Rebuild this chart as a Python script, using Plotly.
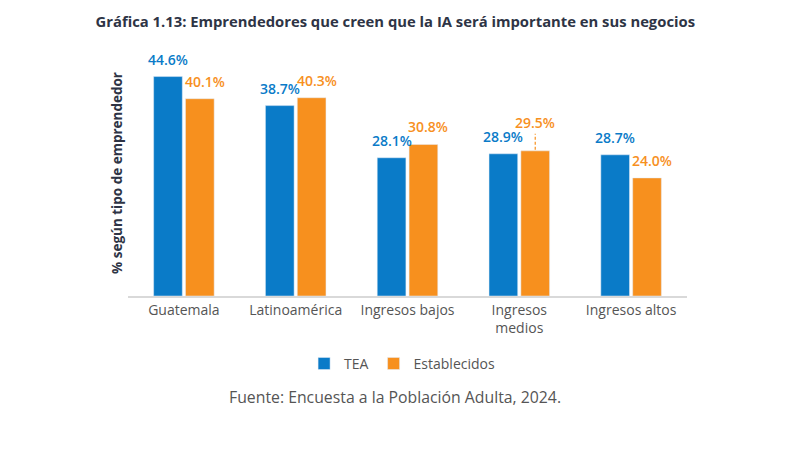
import plotly.graph_objects as go

categories = ["Guatemala", "Latinoamérica", "Ingresos bajos", "Ingresos<br>medios", "Ingresos altos"]
tea_values = [44.6, 38.7, 28.1, 28.9, 28.7]
est_values = [40.1, 40.3, 30.8, 29.5, 24.0]
series_names = ["TEA", "Establecidos"]

BLUE = "#0A7BC8"
ORANGE = "#F7901E"
FONT = "Open Sans"
BARGAP = 0.43
HALF = (1 - BARGAP) / 4  # offset of each bar centre from the category centre

fig = go.Figure()
fig.add_trace(go.Bar(x=categories, y=tea_values, name=series_names[0], marker_color=BLUE))
fig.add_trace(go.Bar(x=categories, y=est_values, name=series_names[1], marker_color=ORANGE))

annotations = []
shapes = []
for i, v in enumerate(tea_values):
    annotations.append(dict(x=i - HALF, y=v, xref="x", yref="y", text=f"{v:.1f}%",
                            showarrow=False, yanchor="bottom", yshift=6,
                            font=dict(family=FONT, size=14, color=BLUE, weight=600)))
for i, v in enumerate(est_values):
    raised = (i == 3)
    annotations.append(dict(x=i + HALF, y=v, xref="x", yref="y", text=f"{v:.1f}%",
                            showarrow=False, yanchor="bottom", yshift=17 if raised else 6,
                            xshift=0 if raised else 5,
                            font=dict(family=FONT, size=14, color=ORANGE, weight=600)))
    if raised:
        shapes.append(dict(type="line", xref="x", yref="y", ysizemode="pixel", yanchor=v,
                           x0=i + HALF, x1=i + HALF, y0=1, y1=17,
                           line=dict(color=ORANGE, width=1.2, dash="3px,2px")))

annotations.append(dict(x=0.4785, y=-0.41, xref="paper", yref="paper", yanchor="middle",
                        text="Fuente: Encuesta a la Población Adulta, 2024.", showarrow=False,
                        font=dict(family=FONT, size=15.8, color="#555555")))

fig.update_layout(
    width=792, height=463,
    paper_bgcolor="white", plot_bgcolor="white",
    margin=dict(l=120, r=113, t=42, b=175),
    title=dict(text="<b>Gráfica 1.13: Emprendedores que creen que la IA será importante en sus negocios</b>",
               x=0.489, xanchor="center", y=0.970, yanchor="middle",
               font=dict(family=FONT, size=14.8, color="#2E3445")),
    barmode="group", bargap=BARGAP, bargroupgap=0.1,
    showlegend=True,
    legend=dict(orientation="h", x=0.315, xanchor="left", y=-0.276, yanchor="middle",
                font=dict(family=FONT, size=14, color="#555555"), itemwidth=30,
                tracegroupgap=0),
    annotations=annotations,
    shapes=shapes,
    xaxis=dict(showline=True, linecolor="#D9D9D9", linewidth=1.5, ticks="",
               tickfont=dict(family=FONT, size=14, color="#555555")),
    yaxis=dict(range=[0, 50], showgrid=False, showticklabels=False, zeroline=False,
               title=dict(text="<b>% según tipo de emprendedor</b>", standoff=1,
                          font=dict(family=FONT, size=13.5, color="#2E3445"))),
)

fig.write_html("out.html")
